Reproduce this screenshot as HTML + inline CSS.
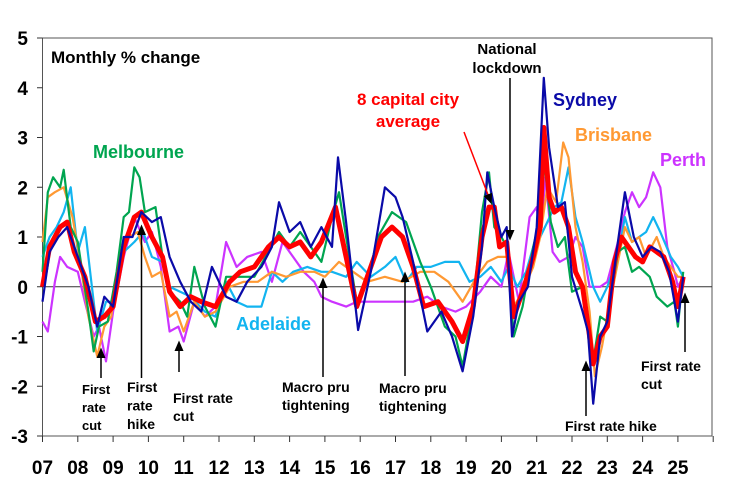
<!DOCTYPE html>
<html><head><meta charset="utf-8"><style>
body{margin:0;background:#fff}
svg text{font-family:"Liberation Sans",Arial,sans-serif;font-weight:bold}
</style></head><body>
<svg width="731" height="476" viewBox="0 0 731 476">
<defs><marker id="ah" markerWidth="8" markerHeight="8" refX="4" refY="4" orient="auto"><path d="M0,1 L7,4 L0,7 Z" fill="#000"/></marker></defs>
<g id="grid"></g>
<g id="series"></g>
<g id="annot"></g>
</svg>
<script>
const yTicks=[5,4,3,2,1,0,-1,-2,-3];
const xTickLabels=["07","08","09","10","11","12","13","14","15","16","17","18","19","20","21","22","23","24","25"];
const sydneyT=[2007.0,2007.2,2007.45,2007.7,2008.0,2008.3,2008.55,2008.75,2009.0,2009.3,2009.55,2009.8,2010.1,2010.35,2010.6,2010.9,2011.2,2011.5,2011.8,2012.2,2012.5,2012.8,2013.2,2013.5,2013.7,2014.0,2014.3,2014.6,2014.9,2015.2,2015.37,2015.6,2015.94,2016.3,2016.7,2017.0,2017.2,2017.5,2017.9,2018.3,2018.6,2018.9,2019.2,2019.45,2019.6,2019.8,2020.0,2020.15,2020.3,2020.5,2020.75,2021.0,2021.2,2021.35,2021.6,2021.8,2022.0,2022.3,2022.45,2022.6,2022.8,2023.0,2023.3,2023.5,2023.75,2024.0,2024.25,2024.5,2024.75,2025.0,2025.15];
const sydneyV=[-0.3,0.7,1.0,1.2,0.6,0.0,-0.8,-0.2,-0.4,1.0,1.0,1.5,1.3,1.4,0.6,0.1,-0.3,-0.5,0.4,-0.2,-0.3,0.1,0.4,0.8,1.7,1.1,1.3,0.8,1.2,0.8,2.6,1.3,-0.87,0.3,2.0,1.8,1.4,0.5,-0.9,-0.5,-1.0,-1.7,-0.6,0.8,2.3,1.6,1.0,1.2,-1.0,-0.3,0.0,1.2,4.2,2.8,1.6,1.7,0.2,-0.5,-0.9,-2.35,-1.0,-0.7,0.9,1.9,1.0,0.6,0.8,0.7,0.3,-0.7,0.2];
const avgT=[2007.0,2007.2,2007.5,2007.7,2007.9,2008.2,2008.5,2008.75,2009.0,2009.3,2009.6,2009.8,2010.1,2010.4,2010.6,2010.9,2011.2,2011.5,2011.9,2012.3,2012.6,2013.0,2013.4,2013.7,2014.0,2014.3,2014.6,2014.9,2015.3,2015.6,2015.9,2016.2,2016.6,2016.9,2017.2,2017.5,2017.8,2018.2,2018.6,2018.9,2019.2,2019.45,2019.65,2019.8,2019.95,2020.15,2020.35,2020.6,2020.9,2021.1,2021.2,2021.35,2021.5,2021.7,2021.9,2022.1,2022.3,2022.5,2022.6,2022.8,2023.0,2023.2,2023.4,2023.6,2023.8,2024.0,2024.2,2024.4,2024.6,2024.85,2025.0,2025.15];
const avgV=[0,0.8,1.2,1.3,0.7,0.2,-0.7,-0.6,-0.4,0.8,1.4,1.5,1.0,0.6,-0.1,-0.4,-0.2,-0.3,-0.4,0.1,0.3,0.4,0.8,1.0,0.8,0.9,0.6,0.9,1.6,0.6,-0.4,0.2,1.0,1.2,1.0,0.4,-0.4,-0.3,-0.7,-1.1,-0.4,1.0,1.6,1.6,0.8,0.9,-0.6,-0.1,0.6,1.2,3.2,1.8,1.5,1.6,1.2,0.3,0.0,-1.0,-1.55,-1.0,-0.8,0.5,1.0,0.8,0.6,0.5,0.8,0.7,0.6,0.1,-0.4,0.2];
const melT=[2007.0,2007.15,2007.3,2007.5,2007.6,2007.8,2008.0,2008.3,2008.45,2008.6,2008.85,2009.1,2009.3,2009.45,2009.6,2009.75,2009.9,2010.2,2010.4,2010.6,2010.9,2011.1,2011.3,2011.6,2011.9,2012.2,2012.6,2013.0,2013.4,2013.7,2014.0,2014.3,2014.6,2014.9,2015.2,2015.4,2015.6,2015.9,2016.2,2016.5,2016.9,2017.3,2017.7,2018.0,2018.4,2018.7,2018.9,2019.2,2019.45,2019.65,2019.8,2020.0,2020.15,2020.35,2020.6,2020.9,2021.1,2021.2,2021.4,2021.6,2021.8,2022.0,2022.3,2022.5,2022.6,2022.8,2023.0,2023.3,2023.5,2023.7,2023.9,2024.2,2024.4,2024.7,2024.9,2025.0,2025.15];
const melV=[0.3,1.9,2.2,2.0,2.35,1.2,0.9,-0.5,-1.3,-0.8,-0.7,0.3,1.4,1.5,2.4,2.2,1.5,1.6,0.6,-0.1,-0.3,-0.6,0.4,-0.4,-0.8,0.2,0.2,0.2,0.7,1.1,0.8,1.1,0.8,0.5,1.4,1.9,1.0,-0.3,0.1,1.0,1.5,1.3,0.5,0.0,-0.8,-1.0,-1.6,-0.4,1.5,2.3,1.2,1.0,0.8,-1.0,-0.4,0.8,1.4,2.6,1.3,0.8,1.0,-0.1,0.0,-1.0,-1.5,-0.6,-0.7,0.7,0.8,0.3,0.4,0.2,-0.2,-0.4,-0.3,-0.8,0.3];
const brisT=[2007.0,2007.15,2007.35,2007.6,2007.85,2008.0,2008.3,2008.55,2008.75,2008.95,2009.2,2009.45,2009.7,2009.9,2010.1,2010.35,2010.6,2010.8,2011.0,2011.3,2011.6,2011.9,2012.3,2012.7,2013.1,2013.5,2013.9,2014.3,2014.7,2015.0,2015.4,2015.8,2016.2,2016.7,2017.2,2017.7,2018.1,2018.5,2018.9,2019.3,2019.6,2019.9,2020.2,2020.35,2020.6,2020.9,2021.1,2021.3,2021.55,2021.75,2021.9,2022.1,2022.3,2022.5,2022.65,2022.85,2023.0,2023.3,2023.5,2023.7,2023.9,2024.1,2024.4,2024.6,2024.8,2025.0,2025.15];
const brisV=[0.9,1.8,1.9,2.0,1.4,0.8,-0.6,-1.4,-0.8,-0.6,0.8,1.0,1.1,0.6,0.2,0.3,-0.6,-0.5,-0.9,-0.3,-0.6,-0.5,0.0,0.1,0.1,0.3,0.2,0.3,0.3,0.2,0.5,0.3,0.1,0.2,0.1,0.3,0.3,0.1,-0.3,0.2,0.5,0.6,0.6,-0.4,-0.1,0.4,1.0,2.0,1.7,2.9,2.6,1.2,0.5,-0.5,-1.8,-1.2,-0.6,0.5,1.2,0.9,1.0,0.6,1.0,0.6,0.4,0.2,0.2];
const perthT=[2007.0,2007.15,2007.35,2007.5,2007.7,2008.0,2008.2,2008.45,2008.6,2008.8,2009.0,2009.3,2009.6,2009.9,2010.1,2010.35,2010.6,2010.85,2011.0,2011.3,2011.6,2011.9,2012.2,2012.5,2012.8,2013.2,2013.5,2013.8,2014.1,2014.4,2014.7,2014.9,2015.2,2015.6,2015.9,2016.3,2016.7,2017.1,2017.5,2017.9,2018.3,2018.7,2019.0,2019.4,2019.7,2020.0,2020.2,2020.5,2020.8,2021.0,2021.1,2021.25,2021.45,2021.65,2021.9,2022.1,2022.3,2022.5,2022.8,2023.0,2023.3,2023.5,2023.7,2023.9,2024.1,2024.3,2024.5,2024.7,2024.9,2025.0,2025.15];
const perthV=[-0.7,-0.9,0.1,0.6,0.4,0.3,-0.3,-1.0,-0.8,-1.5,-0.5,0.6,1.4,0.9,1.1,0.4,-0.9,-0.8,-1.1,-0.3,-0.6,-0.4,0.9,0.4,0.6,0.7,0.1,0.9,0.6,0.3,0.1,-0.2,-0.3,-0.4,-0.3,-0.3,-0.3,-0.3,-0.3,-0.2,-0.4,-0.5,-0.4,-0.1,0.2,0.0,0.7,-0.3,1.4,1.6,1.0,2.2,0.7,0.5,0.6,1.0,0.8,0.0,0.0,0.1,0.9,1.5,1.9,1.6,1.8,2.3,2.0,0.8,0.3,0.0,0.2];
const adelT=[2007.0,2007.2,2007.4,2007.6,2007.8,2008.0,2008.2,2008.4,2008.55,2008.8,2009.0,2009.3,2009.6,2009.85,2010.1,2010.4,2010.6,2010.9,2011.2,2011.6,2011.9,2012.2,2012.5,2012.8,2013.2,2013.5,2013.8,2014.1,2014.5,2014.9,2015.2,2015.6,2015.9,2016.3,2016.7,2017.0,2017.3,2017.6,2018.0,2018.4,2018.8,2019.1,2019.4,2019.7,2020.0,2020.2,2020.45,2020.7,2020.9,2021.1,2021.3,2021.5,2021.7,2021.9,2022.1,2022.3,2022.6,2022.8,2023.0,2023.3,2023.5,2023.7,2023.9,2024.1,2024.3,2024.5,2024.8,2025.0,2025.15];
const adelV=[0.6,1.0,1.2,1.5,2.0,0.7,1.2,0.0,-0.9,-0.3,-0.3,0.7,0.9,1.1,0.6,0.5,0.0,-0.1,-0.2,-0.5,-0.6,0.1,-0.3,-0.4,-0.4,0.3,0.1,0.3,0.4,0.3,0.3,0.2,0.5,0.2,0.4,0.6,0.1,0.4,0.4,0.5,0.5,0.1,0.2,0.4,0.1,0.4,0.0,0.3,0.8,1.0,1.3,1.6,1.7,2.4,1.4,0.9,0.0,-0.3,0.0,0.6,1.4,0.9,1.0,1.1,1.4,1.1,0.6,0.4,0.2];

const NS="http://www.w3.org/2000/svg";
const X0=42.5,YW=35.3,Y0=286.75,YU=49.75;
const xs=t=>X0+(t-2007)*YW;
const ys=v=>Y0-v*YU;
function mk(tag,attrs,parent){const e=document.createElementNS(NS,tag);for(const k in attrs)e.setAttribute(k,attrs[k]);parent.appendChild(e);return e;}
const grid=document.getElementById('grid'),ser=document.getElementById('series'),ann=document.getElementById('annot');

const frame=mk('rect',{x:42.5,y:38,width:669.5,height:398,fill:'none',stroke:'#555','stroke-width':1},grid);


const zl=mk('line',{x1:42.5,x2:712,y1:ys(0),y2:ys(0),stroke:'#333','stroke-width':1},grid);


yTicks.forEach(v=>{
  const l=mk('line',{x1:37,x2:42.5,y1:ys(v),y2:ys(v),stroke:'#333'},grid);
  
  
  const t=mk('text',{x:28,y:ys(v)+7,'text-anchor':'end','font-size':19},grid);
  t.textContent=v;
  
  
});
xTickLabels.forEach((lab,i)=>{
  const x=xs(2007+i);
  const l=mk('line',{x1:x,x2:x,y1:436,y2:442,stroke:'#333'},grid);
  
  
  const t=mk('text',{x:x,y:474,'text-anchor':'middle','font-size':19},grid);
  t.textContent=lab;
  
  
});
const tl=mk('line',{x1:xs(2026),x2:xs(2026),y1:436,y2:442,stroke:'#333'},grid);



function line(T,V,color,w,name){
  const d=T.map((t,i)=>(i?'L':'M')+xs(t).toFixed(1)+','+ys(V[i]).toFixed(1)).join('');
  const p=mk('path',{d:d,fill:'none',stroke:color,'stroke-width':w,'stroke-linejoin':'round'},ser);
  
  
}
line(perthT,perthV,'#CC33FF',2.2,'perth-line');
line(adelT,adelV,'#12B4F0',2.2,'adelaide-line');
line(brisT,brisV,'#FF9933',2.2,'brisbane-line');
line(melT,melV,'#00A550',2.2,'melbourne-line');
line(avgT,avgV,'#FF0000',5,'capital-city-average-line');
line(sydneyT,sydneyV,'#0A0AA8',2.2,'sydney-line');

function txt(lines,x,y,size,color,name,anchor,lh){
  const t=mk('text',{x:x,y:y,'font-size':size,fill:color,'text-anchor':anchor||'start'},ann);
  lines.forEach((s,i)=>{const ts=mk('tspan',{x:x,dy:i?(lh||size*1.1):0},t);ts.textContent=s;});
  
  
}
function arrow(x1,y1,x2,y2,name,color){
  const l=mk('line',{x1:x1,y1:y1,x2:x2,y2:y2,stroke:color||'#000','stroke-width':1.5,'marker-end':'url(#ah)'},ann);
  
  
}
txt(['Monthly % change'],51,63,17,'#000','chart-subtitle');
txt(['Melbourne'],93,158,18,'#00A550','melbourne-label');
txt(['Adelaide'],236,330,18,'#12B4F0','adelaide-label');
txt(['Sydney'],553,106,18,'#0A0AA8','sydney-label');
txt(['Brisbane'],575,141,18,'#FF9933','brisbane-label');
txt(['Perth'],660,166,18,'#CC33FF','perth-label');
txt(['8 capital city','average'],408,105,17,'#FF0000','average-label','middle',22);
arrow(464,132,490,200,'average-arrow','#FF0000');
txt(['National','lockdown'],507,54,15,'#000','national-lockdown-label','middle',19);
arrow(510,78,510,236,'lockdown-arrow');
txt(['First','rate','cut'],82,394,13,'#000','first-rate-cut-2008-label','start',18);
arrow(101,378,101,352,'rate-cut-2008-arrow');
txt(['First','rate','hike'],127,392,14,'#000','first-rate-hike-2009-label','start',18.5);
arrow(141.5,378,141.5,229,'rate-hike-2009-arrow');
txt(['First rate','cut'],173,403,14,'#000','first-rate-cut-2011-label','start',18);
arrow(179,372,179,345,'rate-cut-2011-arrow');
txt(['Macro pru','tightening'],282,392,14,'#000','macro-pru-2014-label','start',18);
arrow(323,377,323,282,'macro-pru-2014-arrow');
txt(['Macro pru','tightening'],379,393,14,'#000','macro-pru-2017-label','start',18);
arrow(405,376,405,276,'macro-pru-2017-arrow');
txt(['First rate hike'],565,431,14,'#000','first-rate-hike-2022-label');
arrow(586,416,586,365,'rate-hike-2022-arrow');
txt(['First rate','cut'],641,371,14,'#000','first-rate-cut-2025-label','start',18);
arrow(685,352,685,297,'rate-cut-2025-arrow');
</script>
</body></html>
